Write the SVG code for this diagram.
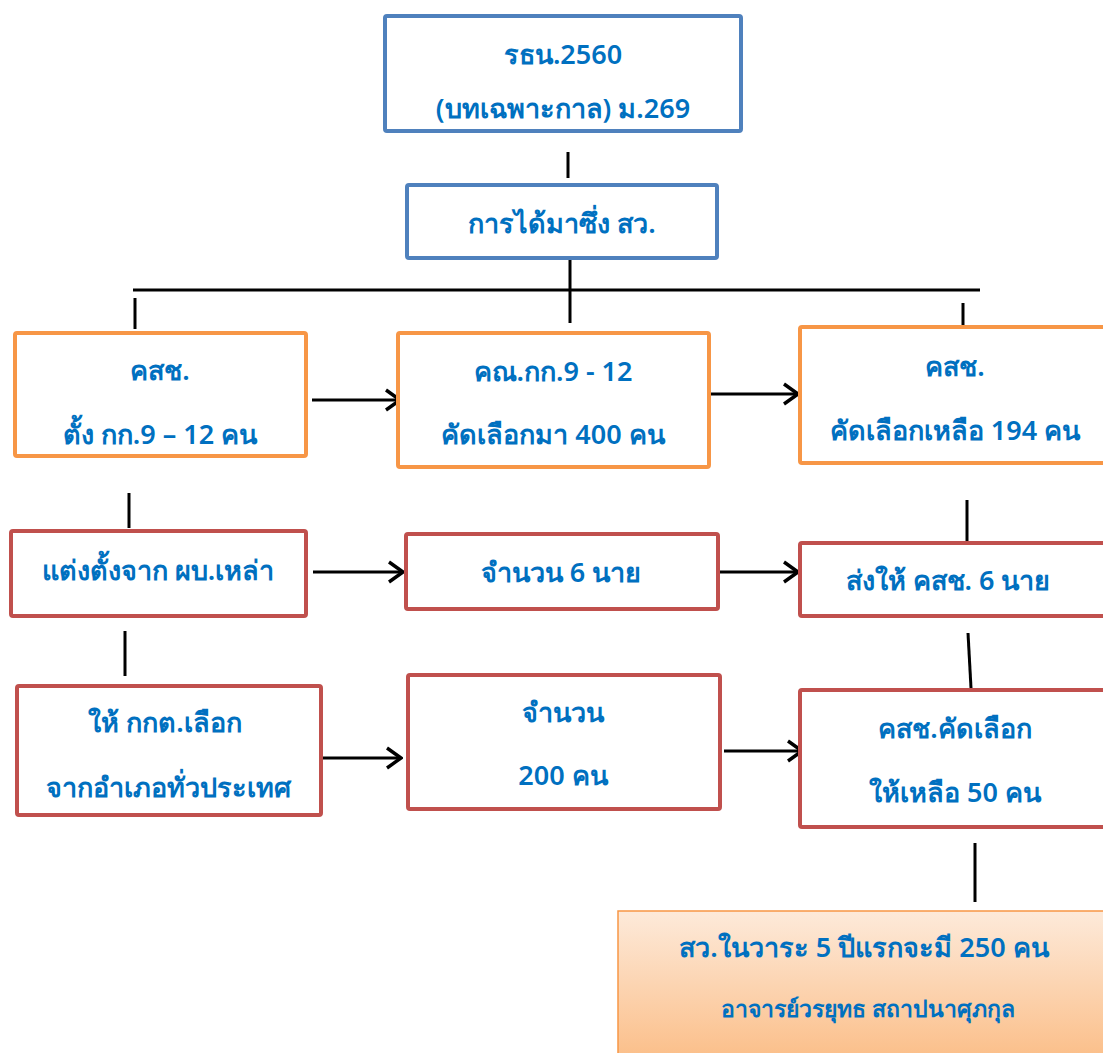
<svg xmlns="http://www.w3.org/2000/svg" width="1103" height="1053" viewBox="0 0 1103 1053">
<style>
.t{font-family:"Noto Sans","DejaVu Sans",sans-serif;font-size:27px;font-weight:600;fill:#0070C0;text-anchor:middle}
.s{font-size:23px}
.blue{fill:#fff;stroke:#4F81BD;stroke-width:4}
.org{fill:#fff;stroke:#F79646;stroke-width:4}
.red{fill:#fff;stroke:#C0504D;stroke-width:4}
.ln{stroke:#000;stroke-width:3;fill:none}
</style>
<defs>
<marker id="ah" viewBox="0 0 18 24" refX="16" refY="12" markerWidth="18" markerHeight="24" markerUnits="userSpaceOnUse" orient="auto">
<path d="M2,2 L16,12 L2,22" fill="none" stroke="#000" stroke-width="3.4"/>
</marker>
<linearGradient id="g" x1="0" y1="0" x2="0" y2="1">
<stop offset="0" stop-color="#FDEADA"/>
<stop offset="1" stop-color="#FBBE88"/>
</linearGradient>
</defs>
<g id="connectors">
<line class="ln" x1="568" y1="152" x2="568" y2="178"/>
<line class="ln" x1="570" y1="258" x2="570" y2="323"/>
<line class="ln" x1="133" y1="290" x2="980" y2="290"/>
<line class="ln" x1="135" y1="298" x2="135" y2="329"/>
<line class="ln" x1="963" y1="303" x2="963" y2="332"/>
<line class="ln" x1="312" y1="400" x2="400" y2="400" marker-end="url(#ah)"/>
<line class="ln" x1="710" y1="394" x2="798" y2="394" marker-end="url(#ah)"/>
<line class="ln" x1="129" y1="493" x2="129" y2="528"/>
<line class="ln" x1="967" y1="500" x2="967" y2="549"/>
<line class="ln" x1="313" y1="572" x2="403" y2="572" marker-end="url(#ah)"/>
<line class="ln" x1="710" y1="572" x2="798" y2="572" marker-end="url(#ah)"/>
<line class="ln" x1="125" y1="631" x2="125" y2="676"/>
<line class="ln" x1="968" y1="633" x2="971" y2="688"/>
<line class="ln" x1="313" y1="758" x2="401" y2="758" marker-end="url(#ah)"/>
<line class="ln" x1="724" y1="751" x2="802" y2="751" marker-end="url(#ah)"/>
<line class="ln" x1="975" y1="843" x2="975" y2="902"/>
</g>
<g id="n1"><rect class="blue" x="385" y="16" width="356" height="115" rx="2"/>
<text class="t" x="563" y="64">รธน.2560</text><text class="t" x="563" y="118">(บทเฉพาะกาล) ม.269</text></g>
<g id="n2"><rect class="blue" x="407" y="185" width="310" height="73" rx="2"/>
<text class="t" x="562" y="233">การได้มาซึ่ง สว.</text></g>
<g id="n3"><rect class="org" x="15" y="333" width="291" height="123" rx="2"/>
<text class="t" x="160" y="380">คสช.</text><text class="t" x="160" y="444">ตั้ง กก.9 – 12 คน</text></g>
<g id="n4"><rect class="org" x="398" y="333" width="311" height="134" rx="2"/>
<text class="t" x="553" y="381">คณ.กก.9 - 12</text><text class="t" x="553" y="444">คัดเลือกมา 400 คน</text></g>
<g id="n5"><rect class="org" x="800" y="327" width="310" height="136" rx="2"/>
<text class="t" x="955" y="376">คสช.</text><text class="t" x="955" y="440">คัดเลือกเหลือ 194 คน</text></g>
<g id="n6"><rect class="red" x="11" y="531" width="295" height="85" rx="2"/>
<text class="t" x="158" y="580">แต่งตั้งจาก ผบ.เหล่า</text></g>
<g id="n7"><rect class="red" x="406" y="534" width="312" height="75" rx="2"/>
<text class="t" x="561" y="582">จำนวน 6 นาย</text></g>
<g id="n8"><rect class="red" x="800" y="543" width="310" height="73" rx="2"/>
<text class="t" x="948" y="590">ส่งให้ คสช. 6 นาย</text></g>
<g id="n9"><rect class="red" x="17" y="686" width="304" height="129" rx="2"/>
<text class="t" x="165" y="732">ให้ กกต.เลือก</text><text class="t" x="168" y="797">จากอำเภอทั่วประเทศ</text></g>
<g id="n10"><rect class="red" x="408" y="675" width="312" height="134" rx="2"/>
<text class="t" x="563" y="722">จำนวน</text><text class="t" x="563" y="785">200 คน</text></g>
<g id="n11"><rect class="red" x="800" y="690" width="310" height="137" rx="2"/>
<text class="t" x="955" y="738">คสช.คัดเลือก</text><text class="t" x="955" y="802">ให้เหลือ 50 คน</text></g>
<g id="n12"><rect x="618" y="911" width="500" height="150" fill="url(#g)" stroke="#F79646" stroke-width="1.5"/>
<text class="t" x="864" y="957">สว.ในวาระ 5 ปีแรกจะมี 250 คน</text><text class="t s" x="868" y="1017">อาจารย์วรยุทธ สถาปนาศุภกุล</text></g>
</svg>
